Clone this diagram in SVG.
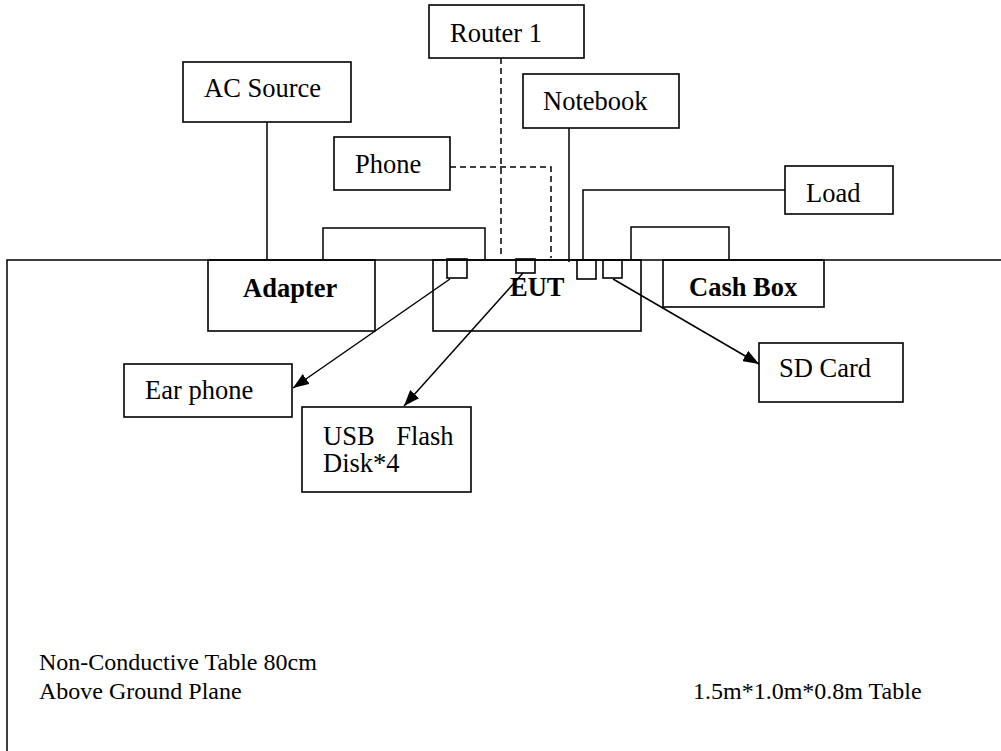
<svg xmlns="http://www.w3.org/2000/svg" width="1001" height="751" viewBox="0 0 1001 751">
<style>
.box{fill:none;stroke:#000;stroke-width:1.6}
.ln{fill:none;stroke:#000;stroke-width:1.5}
.dash{fill:none;stroke:#000;stroke-width:1.5;stroke-dasharray:6 4}
.t{font-family:"Liberation Serif","Times New Roman",serif;font-size:26.5px;fill:#000}
.s{font-size:24px}
.b{font-weight:bold}
</style>
<defs>
<marker id="ah" viewBox="0 0 16 12" refX="16" refY="6" markerWidth="16" markerHeight="12" markerUnits="userSpaceOnUse" orient="auto">
<path d="M0,0 L16,6 L0,12 z" fill="#000"/>
</marker>
</defs>
<rect width="1001" height="751" fill="#fff"/>
<g id="table">
<polyline class="ln" points="7,751 7,260 1001,260"/>
<text class="t s" x="39" y="670">Non-Conductive Table 80cm</text>
<text class="t s" x="39" y="699">Above Ground Plane</text>
<text class="t s" x="693" y="699">1.5m*1.0m*0.8m Table</text>
</g>
<g id="connectors">
<line class="ln" x1="267" y1="122" x2="267" y2="260"/>
<polyline class="ln" points="323,260 323,228 485,228 485,260"/>
<polyline class="ln" points="631,260 631,227 729,227 729,260"/>
<line class="dash" x1="501" y1="58" x2="501" y2="258"/>
<polyline class="dash" points="450,167 551,167 551,258"/>
<line class="ln" x1="569" y1="128" x2="569" y2="262"/>
<polyline class="ln" points="785,190 583,190 583,260"/>
<line class="ln" x1="450" y1="279" x2="293" y2="388" marker-end="url(#ah)"/>
<line class="ln" x1="523" y1="273" x2="404" y2="406" marker-end="url(#ah)"/>
<line class="ln" x1="613" y1="279" x2="759" y2="364" marker-end="url(#ah)"/>
</g>
<g id="router1">
<rect class="box" x="429" y="5" width="155" height="53"/>
<text class="t" x="450" y="42">Router 1</text>
</g>
<g id="acsource">
<rect class="box" x="183" y="62" width="168" height="60"/>
<text class="t" x="204" y="97">AC Source</text>
</g>
<g id="phone">
<rect class="box" x="334" y="137" width="116" height="53"/>
<text class="t" x="355" y="173">Phone</text>
</g>
<g id="notebook">
<rect class="box" x="523" y="74" width="156" height="54"/>
<text class="t" x="543" y="110">Notebook</text>
</g>
<g id="load">
<rect class="box" x="785" y="166" width="108" height="48"/>
<text class="t" x="806" y="202">Load</text>
</g>
<g id="adapter">
<rect class="box" x="208" y="260" width="167" height="71"/>
<text class="t b" x="243" y="297">Adapter</text>
</g>
<g id="eut">
<rect class="box" x="433" y="260" width="208" height="71"/>
<text class="t b" x="510" y="296">EUT</text>
<rect class="box" x="447" y="259" width="20" height="19"/>
<rect class="box" x="516" y="259" width="19" height="14"/>
<rect class="box" x="577" y="260" width="19" height="19"/>
<rect class="box" x="603" y="260" width="19" height="18"/>
</g>
<g id="cashbox">
<rect class="box" x="663" y="260" width="161" height="47"/>
<text class="t b" x="689" y="296">Cash Box</text>
</g>
<g id="earphone">
<rect class="box" x="124" y="364" width="168" height="53"/>
<text class="t" x="145" y="399">Ear phone</text>
</g>
<g id="usb">
<rect class="box" x="302" y="407" width="169" height="85"/>
<text class="t" x="323" y="445" word-spacing="15">USB Flash</text>
<text class="t" x="323" y="472">Disk*4</text>
</g>
<g id="sdcard">
<rect class="box" x="759" y="343" width="144" height="59"/>
<text class="t" x="779" y="377">SD Card</text>
</g>
</svg>
